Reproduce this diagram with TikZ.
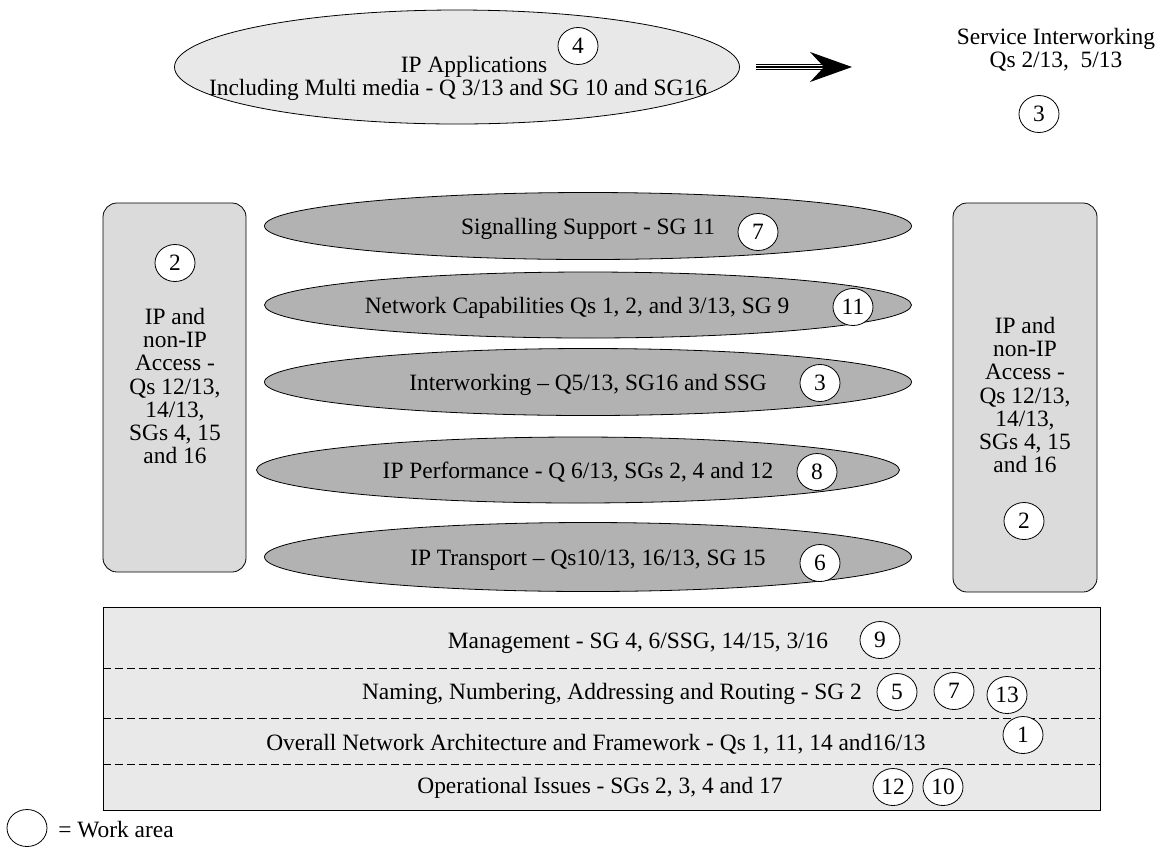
\documentclass[tikz,border=0pt]{standalone}
\usepackage{fontspec}
\setmainfont{Liberation Serif}
\usetikzlibrary{shapes.geometric, arrows.meta, positioning}
\definecolor{paleblob}{gray}{0.91}
\definecolor{layergrey}{gray}{0.70}
\definecolor{sidegrey}{gray}{0.86}
\definecolor{basegrey}{gray}{0.915}
\tikzset{
  topblob/.style={ellipse, draw=black, fill=paleblob, inner sep=0pt},
  layer/.style={ellipse, draw=black, fill=layergrey, inner sep=0pt, minimum width=323.5pt,
    text height=11pt, text depth=2.5pt},
  access/.style={rectangle, rounded corners=7pt, draw=black, fill=sidegrey, inner sep=0pt},
  base/.style={rectangle, draw=black, fill=basegrey, inner sep=0pt},
  wa/.style={ellipse, draw=black, fill=white, inner sep=0pt, minimum width=20pt, minimum height=18.5pt},
  txt/.style={inner sep=0pt, align=center},
  sep/.style={dashed, dash pattern=on 4pt off 2pt},
}

\begin{document}
\begin{tikzpicture}[x=0.5pt, y=-0.5pt, font=\fontsize{11.7}{11.6}\selectfont]
\useasboundingbox (0,0) rectangle (1163,848);

% applications on top
\node (apps) [topblob, minimum width=282.5pt, minimum height=57pt] at (457,67) {};
\node (appsA) [txt] at (474,67) {IP Applications};
\node (appsB) [txt] at (458,90) {Including Multi media - Q 3/13 and SG 10 and SG16};
\node (w4) [wa] at (578,46) {4};

\node (svc) [txt] at (1056,50) {Service Interworking\\Qs 2/13,\ \ 5/13};
\node (w3s) [wa] at (1039,114) {3};
\coordinate (arrtip) at (852,67);
\draw [line width=0.6pt, double, double distance=2pt] ([xshift=8pt]apps.east) -- ([xshift=-14pt]arrtip);
\draw [line width=0.6pt, -{Stealth[length=21pt, width=15pt, inset=7pt]}] ([xshift=8pt]apps.east) -- (arrtip);

% access columns
\node (accL) [access, minimum width=71.5pt, minimum height=184.5pt] at (174.5,387.5) {};
\node (accR) [access, minimum width=72pt, minimum height=194.5pt] at (1025,397.5) {};
\node (w2l) [wa] at (175,263) {2};
\node (accLt) [txt] at (175,386) {IP and\\non-IP\\Access -\\Qs 12/13,\\14/13,\\SGs 4, 15\\and 16};
\node (accRt) [txt] at (1025,395) {IP and\\non-IP\\Access -\\Qs 12/13,\\14/13,\\SGs 4, 15\\and 16};
\node (w2r) [wa] at (1024,521) {2};

% layers
\node (sig) [layer, minimum height=33.5pt] at (588,226) {Signalling Support - SG 11};
\node (netcap) [layer, minimum height=33pt] at (588,305) {Network Capabilities Qs 1, 2, and 3/13, SG 9\kern11pt};
\node (iwk) [layer, minimum height=33.5pt] at (588,382) {Interworking -- Q5/13, SG16 and SSG};
\node (perf) [layer, minimum width=321.5pt, minimum height=33pt] at (578,470) {IP Performance - Q 6/13, SGs 2, 4 and 12};
\node (trans) [layer, minimum height=34.5pt] at (588,557) {IP Transport -- Qs10/13, 16/13, SG 15};
\node (w7a) [wa] at (758,232) {7};
\node (w11) [wa] at (853,307) {11};
\node (w3) [wa] at (820,383) {3};
\node (w8) [wa] at (817,472) {8};
\node (w6) [wa] at (820,563) {6};

% common functions at the bottom
\node (base) [base, minimum width=498.5pt, minimum height=101.5pt] at (601.5,708.5) {};
\foreach \yy in {668,718,764}
  \draw [sep] (base.west |- 0,\yy) -- (base.east |- 0,\yy);
\node (mgmt) [txt] at (638,643) {Management - SG 4, 6/SSG, 14/15, 3/16};
\node (naming) [txt] at (612,694) {Naming, Numbering, Addressing and Routing - SG 2};
\node (arch) [txt] at (596,744) {Overall Network Architecture and Framework - Qs 1, 11, 14 and16/13};
\node (ops) [txt] at (600,788) {Operational Issues - SGs 2, 3, 4 and 17};
\node (w9) [wa] at (880,640) {9};
\node (w5) [wa] at (897,692) {5};
\node (w7b) [wa] at (954,691) {7};
\node (w13) [wa] at (1007,695) {13};
\node (w1) [wa] at (1023,735) {1};
\node (w12) [wa] at (893,787) {12};
\node (w10) [wa] at (943,787) {10};

% legend
\node (key) [wa] at (27,828) {};
\node (keyt) [txt, anchor=west] at (58,830) {= Work area};

\end{tikzpicture}
\end{document}
